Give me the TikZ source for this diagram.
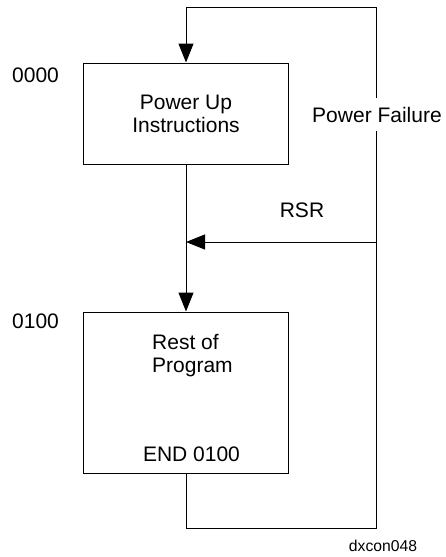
\documentclass[tikz,border=0pt]{standalone}
\usepackage{fontspec}
\setmainfont{Liberation Sans}
\usetikzlibrary{arrows.meta}
\begin{document}
\begin{tikzpicture}[x=1pt,y=-1pt,
  box/.style={draw, line width=1pt, minimum width=205pt, inner sep=0pt},
  lbl/.style={font=\fontsize{21}{23}\selectfont, inner sep=0pt},
  line/.style={line width=1pt},
  tip/.style={-{Triangle[length=19pt,width=15pt]}}]
\useasboundingbox (0,0) rectangle (446,557);
\node[box, lbl, minimum height=101pt, align=center] (b1) at (186,113.5) {Power Up\\Instructions};
\node[box, minimum height=161pt] (b2) at (186,392.5) {};
\node[lbl, align=left, anchor=base west] (rest) at (152,372.5) {Rest of\\Program};
\node[lbl, anchor=base] (end) at (191.5,461) {END 0100};
\node[lbl, anchor=base west] (a0) at (12,82) {0000};
\node[lbl, anchor=base west] (a1) at (12,328) {0100};
\node[lbl, anchor=base] (rsr) at (302,217) {RSR};
\node[lbl, anchor=base, fill=white, text height=15pt, text depth=0pt, inner ysep=9pt, inner xsep=0pt] (pf) at (377,122) {Power Failure};
\node[font=\fontsize{15.7}{18}\selectfont, anchor=base, inner sep=0pt] (id) at (383,551.5) {dxcon048};
\coordinate (tl) at (186,7);
\coordinate (tr) at (376,7);
\coordinate (br) at (376,528);
\coordinate (bl) at (186,528);
\coordinate (rj) at (376,242);
\coordinate (mj) at (186,242);
\draw[line] (b2.south) -- (bl) -- (br) -- (br |- pf.south);
\draw[line, tip] (br |- pf.north) -- (tr) -- (tl) -- (b1.north);
\draw[line] (b1.south) -- (mj);
\draw[line, tip] (mj) -- (b2.north);
\draw[line, tip] (rj) -- (mj);
\end{tikzpicture}
\end{document}
